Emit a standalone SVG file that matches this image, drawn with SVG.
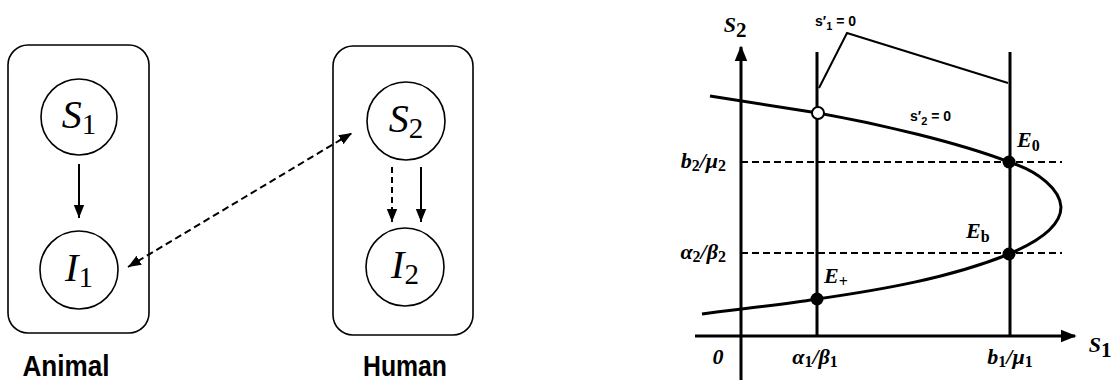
<svg xmlns="http://www.w3.org/2000/svg" width="1117" height="383" viewBox="0 0 1117 383">
<defs>
<style>
.box{fill:none;stroke:#000;stroke-width:1.6}
.node{fill:#fff;stroke:#000;stroke-width:1.6}
.nl{font-family:"Liberation Serif",serif;font-style:italic;font-size:40px;fill:#000}
.sub{font-style:normal;font-size:29px}
.cap{font-family:"Liberation Sans",sans-serif;font-weight:bold;font-size:30px;fill:#000}
.edge{fill:none;stroke:#000;stroke-width:2}
.dash{stroke-dasharray:6 4}
.ax{fill:none;stroke:#000;stroke-width:3}
.thin{fill:none;stroke:#000;stroke-width:2}
.hd{fill:none;stroke:#000;stroke-width:2;stroke-dasharray:7 4}
.ml{font-family:"Liberation Serif",serif;font-style:italic;font-weight:bold;font-size:22px;fill:#000}
.ms{font-size:16px;font-style:normal}
.sm{font-family:"Liberation Sans",sans-serif;font-weight:bold;font-size:14px;fill:#000}
</style>
<marker id="ah2" viewBox="0 0 10 10" refX="10" refY="5" markerWidth="13" markerHeight="13" orient="auto-start-reverse" markerUnits="userSpaceOnUse">
<path d="M0,1 L10,5 L0,9 Z" fill="#000"/>
</marker>
<marker id="axh" viewBox="0 0 10 10" refX="9" refY="5" markerWidth="16" markerHeight="16" orient="auto" markerUnits="userSpaceOnUse">
<path d="M0,1 L10,5 L0,9 Z" fill="#000"/>
</marker>
</defs>
<rect width="1117" height="383" fill="#fff"/>

<g id="animal">
<rect class="box" x="8" y="45" width="141" height="288" rx="20"/>
<text class="cap" x="66" y="376" text-anchor="middle" textLength="87" lengthAdjust="spacingAndGlyphs">Animal</text>
</g>
<g id="human">
<rect class="box" x="333" y="46" width="140" height="289" rx="20"/>
<text class="cap" x="405" y="376" text-anchor="middle" textLength="84" lengthAdjust="spacingAndGlyphs">Human</text>
</g>
<g id="S1">
<circle class="node" cx="79" cy="117" r="38"/>
<text class="nl" x="79" y="128" text-anchor="middle">S<tspan class="sub" dy="6">1</tspan></text>
</g>
<g id="I1">
<circle class="node" cx="79" cy="270" r="39"/>
<text class="nl" x="79" y="281" text-anchor="middle">I<tspan class="sub" dy="6">1</tspan></text>
</g>
<g id="S2">
<circle class="node" cx="406" cy="121" r="39"/>
<text class="nl" x="406" y="132" text-anchor="middle">S<tspan class="sub" dy="6">2</tspan></text>
</g>
<g id="I2">
<circle class="node" cx="405" cy="267" r="39"/>
<text class="nl" x="405" y="278" text-anchor="middle">I<tspan class="sub" dy="6">2</tspan></text>
</g>

<g id="connectors">
<line class="edge" x1="79" y1="164" x2="79" y2="218" marker-end="url(#ah2)"/>
<line class="edge dash" x1="392" y1="167" x2="392" y2="222" marker-end="url(#ah2)"/>
<line class="edge" x1="421" y1="167" x2="421" y2="222" marker-end="url(#ah2)"/>
<line class="edge" stroke-width="2.5" stroke-dasharray="7 4" x1="128" y1="267" x2="352" y2="133" marker-start="url(#ah2)" marker-end="url(#ah2)"/>
</g>

<g id="phase-plane">
<line class="ax" x1="741" y1="380" x2="741" y2="47" marker-end="url(#axh)"/>
<line class="ax" x1="695" y1="336" x2="1075" y2="336" marker-end="url(#axh)"/>
<line class="ax" x1="817" y1="52" x2="817" y2="336"/>
<line class="ax" x1="1010" y1="52" x2="1010" y2="336"/>
<line class="hd" x1="741" y1="162" x2="1062" y2="162"/>
<line class="hd" x1="741" y1="253" x2="1062" y2="253"/>
<polyline class="thin" points="819,88 847,33 1008,83"/>
<path class="ax" d="M710,96 L818,113 C880,124 960,143 1009,162 C1040,172 1060,190 1061,207 C1061,228 1035,243 1009,254 C950,278 880,290 817,299 C780,305 740,309 702,314"/>
<circle cx="818" cy="113" r="6" fill="#fff" stroke="#000" stroke-width="2"/>
<circle cx="1009" cy="162" r="6.5" fill="#000"/>
<circle cx="1009" cy="254" r="6.5" fill="#000"/>
<circle cx="817" cy="299" r="6.5" fill="#000"/>

<text class="ml" x="735" y="32" text-anchor="middle" font-size="29">S<tspan font-size="21" font-style="normal" dy="5">2</tspan></text>
<text class="ml" x="1100" y="352" text-anchor="middle" font-size="29">S<tspan font-size="21" font-style="normal" dy="5">1</tspan></text>
<text class="sm" x="815" y="26">s′<tspan font-size="11" dy="4">1</tspan><tspan dy="-4"> = 0</tspan></text>
<text class="sm" x="910" y="121">s′<tspan font-size="11" dy="4">2</tspan><tspan dy="-4"> = 0</tspan></text>
<text class="ml" x="1017" y="147">E<tspan class="ms" dy="4">0</tspan></text>
<text class="ml" x="966" y="238">E<tspan class="ms" dy="4">b</tspan></text>
<text class="ml" x="824" y="283">E<tspan class="ms" dy="4">+</tspan></text>
<text class="ml" x="726" y="168" text-anchor="end">b<tspan class="ms" dy="3">2</tspan><tspan dy="-3">/μ</tspan><tspan class="ms" dy="3">2</tspan></text>
<text class="ml" x="726" y="259" text-anchor="end">α<tspan class="ms" dy="3">2</tspan><tspan dy="-3">/β</tspan><tspan class="ms" dy="3">2</tspan></text>
<text class="ml" x="718" y="364" text-anchor="middle">0</text>
<text class="ml" x="815" y="364" text-anchor="middle">α<tspan class="ms" dy="3">1</tspan><tspan dy="-3">/β</tspan><tspan class="ms" dy="3">1</tspan></text>
<text class="ml" x="1010" y="364" text-anchor="middle">b<tspan class="ms" dy="3">1</tspan><tspan dy="-3">/μ</tspan><tspan class="ms" dy="3">1</tspan></text>
</g>
</svg>
